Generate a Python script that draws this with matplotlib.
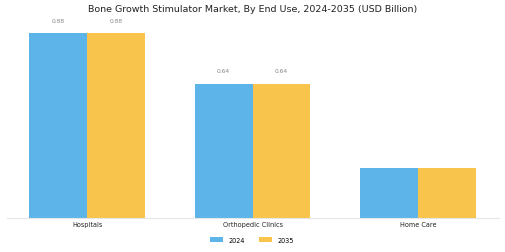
import numpy as np
import matplotlib.pyplot as plt

categories = ['Hospitals', 'Orthopedic Clinics', 'Home Care']
years = ['2024', '2035']
values_2024 = [0.88, 0.64, 0.24]
values_2035 = [0.88, 0.64, 0.24]
show_label = [True, True, False]

colors = ['#5DB4E8', '#F9C44B']

fig = plt.figure(figsize=(5.05, 2.53), dpi=100)
ax = fig.add_axes([7 / 505, 1 - 219 / 253, 492 / 505, 194 / 253])

x = np.arange(len(categories))
w = 0.35
for off, vals, col, lab in [(-w / 2, values_2024, colors[0], years[0]),
                            (w / 2, values_2035, colors[1], years[1])]:
    bars = ax.bar(x + off, vals, w, color=col, label=lab)
    for b, v, s in zip(bars, vals, show_label):
        if s:
            ax.text(b.get_x() + b.get_width() / 2, v + 0.05, f'{v:.2f}',
                    ha='center', va='bottom', fontsize=4.3, color='#888888')

ax.set_xlim(-0.485, 2.49)
ax.set_ylim(0, 0.924)
ax.set_xticks(x)
ax.set_xticklabels(categories, fontsize=4.7, color='#222222')
ax.tick_params(axis='x', length=0, pad=2.5)
ax.set_yticks([])
for sp in ['top', 'right', 'left']:
    ax.spines[sp].set_visible(False)
ax.spines['bottom'].set_color('#e6e6e6')

fig.text(0.5, 1 - 10 / 253,
         'Bone Growth Stimulator Market, By End Use, 2024-2035 (USD Billion)',
         fontsize=6.8, ha='center', va='center', color='#222222')
fig.legend(loc='center', bbox_to_anchor=(252 / 505, 1 - 241 / 253), ncol=2,
           frameon=False, fontsize=4.7, handlelength=2.0, handleheight=0.9,
           columnspacing=2.2)

fig.savefig('out.png', dpi=100)
